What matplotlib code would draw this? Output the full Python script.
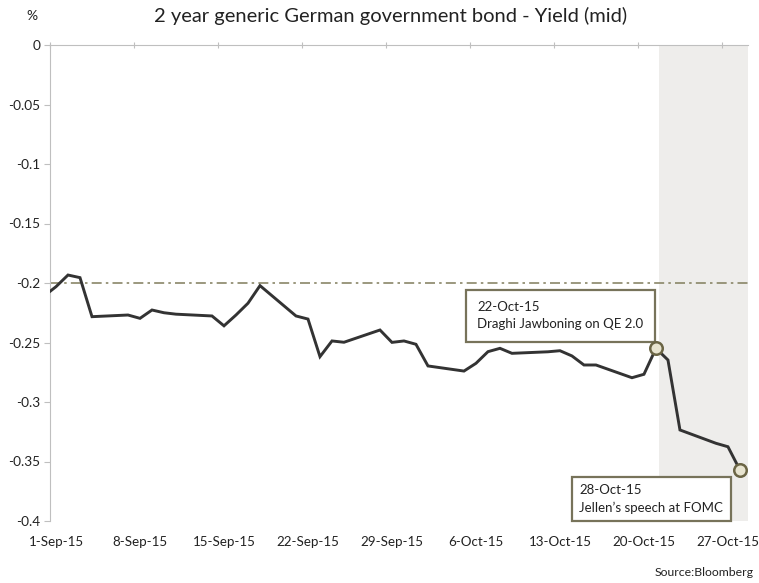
import matplotlib
matplotlib.use("Agg")
import matplotlib.pyplot as plt
import numpy as np
import pandas as pd

plt.rcParams['font.family'] = ['Lato', 'DejaVu Sans']

# trading days and yield (mid), %
dates = ['2015-08-31', '2015-09-01', '2015-09-02', '2015-09-03', '2015-09-04',
         '2015-09-07', '2015-09-08', '2015-09-09', '2015-09-10', '2015-09-11',
         '2015-09-14', '2015-09-15', '2015-09-16', '2015-09-17', '2015-09-18',
         '2015-09-21', '2015-09-22', '2015-09-23', '2015-09-24', '2015-09-25',
         '2015-09-28', '2015-09-29', '2015-09-30', '2015-10-01', '2015-10-02',
         '2015-10-05', '2015-10-06', '2015-10-07', '2015-10-08', '2015-10-09',
         '2015-10-12', '2015-10-13', '2015-10-14', '2015-10-15', '2015-10-16',
         '2015-10-19', '2015-10-20', '2015-10-21', '2015-10-22', '2015-10-23',
         '2015-10-26', '2015-10-27', '2015-10-28']
yields = [-0.211, -0.2031, -0.1933, -0.1955, -0.2283,
          -0.2269, -0.2297, -0.2227, -0.2250, -0.2262,
          -0.2277, -0.2360, -0.2269, -0.2170, -0.2022,
          -0.2277, -0.2303, -0.2619, -0.2487, -0.2498,
          -0.2395, -0.2499, -0.2487, -0.2515, -0.2697,
          -0.2740, -0.2675, -0.2577, -0.2549, -0.2591,
          -0.2578, -0.2569, -0.2613, -0.2689, -0.2689,
          -0.2796, -0.2767, -0.2549, -0.2647, -0.3235,
          -0.3347, -0.3376, -0.3572]
tick_dates = ['2015-09-01', '2015-09-08', '2015-09-15', '2015-09-22', '2015-09-29',
              '2015-10-06', '2015-10-13', '2015-10-20', '2015-10-27']
tick_labels = ['1-Sep-15', '8-Sep-15', '15-Sep-15', '22-Sep-15', '29-Sep-15',
               '6-Oct-15', '13-Oct-15', '20-Oct-15', '27-Oct-15']
highlight = ['2015-10-21', '2015-10-28']
notes = ['22-Oct-15\nDraghi Jawboning on QE 2.0', '28-Oct-15\nJellen\u2019s speech at FOMC']
y_ticks = [0, -0.05, -0.1, -0.15, -0.2, -0.25, -0.3, -0.35, -0.4]
ref_level = -0.2

half = pd.Timedelta(hours=12)
x = pd.to_datetime(dates) + half
y = np.array(yields)
ticks = pd.to_datetime(tick_dates)

fig = plt.figure(figsize=(7.59, 5.83), dpi=100)
ax = fig.add_axes([50/759, 1-521/583, 698/759, 476/583])

x0 = pd.Timestamp('2015-09-01')
x1 = x0 + pd.Timedelta(days=58.17)
shade_start = x0 + pd.Timedelta(days=50.75)
ax.axvspan(shade_start, x1, color='#eeedeb', zorder=0, lw=0)

ax.axhline(ref_level, color='#8a8668', lw=1.2, ls=(0, (6, 2.5, 1.5, 2.5)), zorder=1)
ax.plot(x, y, color='#333333', lw=2.1, zorder=3, solid_joinstyle='miter')

hl = pd.to_datetime(highlight) + half
hy = [y[list(x).index(d)] for d in hl]
ax.plot(hl, hy, 'o', ms=9, mfc='#e8e4d0', mec='#6b6545', mew=1.8, zorder=6, clip_on=False)

ax.set_xlim(x0, x1)
ax.set_ylim(-0.4, 0)

# labels sit mid-day, tick marks at day start on the top axis line
ax.set_xticks(ticks + half)
ax.set_xticklabels(tick_labels, fontsize=9.6, color='#222222')
ax.tick_params(axis='x', length=0, pad=11)
top = ax.secondary_xaxis('top')
top.set_xticks(ticks)
top.set_xticklabels([])
top.tick_params(length=4, direction='inout', color='#bfbfbf')
top.spines['top'].set_color('#bfbfbf')

ax.set_yticks(y_ticks)
ax.set_yticklabels(['0' if v == 0 else f"{v:g}" for v in y_ticks], fontsize=9.8, color='#222222')
ax.tick_params(axis='y', length=4, color='#bfbfbf', pad=3)

for s in ['right', 'bottom', 'top']:
    ax.spines[s].set_visible(False)
ax.spines['left'].set_color('#bfbfbf')

box1 = dict(boxstyle='square,pad=0.85', fc='white', ec='#77735a', lw=1.6)
box2 = dict(boxstyle='square,pad=0.55', fc='white', ec='#77735a', lw=1.6)
ax.text(0.612, 0.431, notes[0], transform=ax.transAxes, fontsize=9.5, va='center',
        ha='left', linespacing=1.5, color='#222222', bbox=box1, zorder=5)
ax.text(0.7585, 0.046, notes[1], transform=ax.transAxes, fontsize=9.5, va='center',
        ha='left', linespacing=1.5, color='#222222', bbox=box2, zorder=5)

fig.text(391/759, 1-16/583, '2 year generic German government bond - Yield (mid)',
         ha='center', va='center', fontsize=14.5, color='#222222')
fig.text(32/759, 1-16/583, '%', ha='center', va='center', fontsize=10, color='#222222')
fig.text(754/759, 1-572/583, 'Source:Bloomberg', ha='right', va='center', fontsize=8.8, color='#222222')

fig.savefig('out.png', dpi=100)
